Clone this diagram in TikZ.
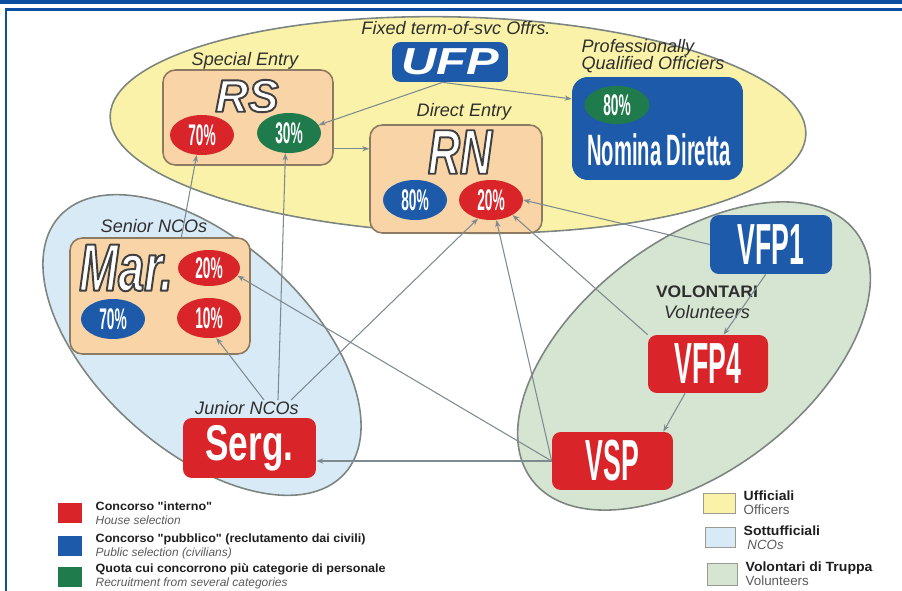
\documentclass[tikz,border=0pt]{standalone}
\usepackage{fontspec}
\setmainfont{Liberation Sans}
\newfontfamily\cnda[FakeStretch=0.46]{Liberation Sans}
\newfontfamily\cndb[FakeStretch=0.7]{Liberation Sans}
\newfontfamily\widefont[FakeStretch=1.3]{Liberation Sans}
\newfontfamily\extfont[FakeStretch=1.05]{Liberation Sans}
\usetikzlibrary{positioning,arrows.meta,shapes.geometric}

\definecolor{frameblue}{HTML}{0B4EA2}
\definecolor{offyellow}{HTML}{FAF2A8}
\definecolor{ncoblue}{HTML}{D9EAF7}
\definecolor{volgreen}{HTML}{D5E5D2}
\definecolor{beige}{HTML}{F8D4A6}
\definecolor{boxedge}{HTML}{8C7B62}
\definecolor{grpedge}{HTML}{7C8580}
\definecolor{cred}{HTML}{D9252A}
\definecolor{cblue}{HTML}{1E5AAA}
\definecolor{cgreen}{HTML}{1F7A4C}
\definecolor{linegray}{HTML}{7D8A90}
\definecolor{tagtext}{HTML}{2E2E2E}
\definecolor{legdark}{HTML}{1E1E1E}
\definecolor{leggray}{HTML}{5A5A5A}
\definecolor{keyedge}{HTML}{9A9A90}

% white letters with a dark rim (fill and stroke)
\newcommand\rimtext[1]{%
  \special{pdf:literal direct 0.25 0.25 0.25 RG 1.1 w 1 j 2 Tr}#1%
  \special{pdf:literal direct 0 Tr}}

\tikzset{
  grp/.style={draw=grpedge, line width=0.9pt},
  box/.style={draw=boxedge, line width=0.9pt, fill=beige, rounded corners=7pt},
  redbox/.style={fill=cred, rounded corners=5pt, text=white},
  bluebox/.style={fill=cblue, rounded corners=5pt, text=white},
  pct/.style={ellipse, inner sep=0pt, minimum width=1.28cm, minimum height=0.8cm,
    text=white, font=\cnda\bfseries\fontsize{17}{17}\selectfont},
  tag/.style={text=tagtext, inner sep=1pt, font=\itshape\fontsize{10.3}{9.7}\selectfont},
  big/.style={font=\cnda\bfseries\fontsize{33}{33}\selectfont},
  rimmed/.style={text=white, inner sep=1pt},
  arr/.style={draw=linegray, line width=0.6pt, -{Stealth[length=4pt,width=3pt]}},
  keysq/.style={minimum height=0.4cm, inner sep=0pt},
  legtxt/.style={align=left, inner sep=0pt, text=legdark, font=\fontsize{6.8}{8}\selectfont},
  legtxtr/.style={legtxt, font=\fontsize{7.6}{8.2}\selectfont}
}

\begin{document}
\begin{tikzpicture}[x=0.02cm, y=-0.02cm]
  \useasboundingbox (0,0) rectangle (902,591);
  % frame
  \fill[frameblue] (0,0) rectangle (902,4);
  \draw[frameblue, line width=1.3pt] (6,591) -- (6,9.5) -- (902,9.5);

  % the three groups
  \draw[grp, fill=offyellow, rotate around={-1.5:(458,125)}] (458,125) ellipse [x radius=348, y radius=108];
  \draw[grp, fill=ncoblue, rotate around={-42:(202,345)}] (202,345) ellipse [x radius=192, y radius=105];
  \draw[grp, fill=volgreen, rotate around={37.5:(694,356)}] (694,356) ellipse [x radius=204, y radius=115];

  % officers
  \node (ufplbl) at (456,28) [tag] {Fixed term-of-svc Offrs.};
  \node (ufp) at (450,62) [bluebox, minimum width=2.32cm, minimum height=0.8cm,
    font=\widefont\bfseries\itshape\fontsize{21.4}{21.4}\selectfont] {UFP};
  \node (rslbl) at (245,61) [tag] {Special Entry};
  \node (rs) at (248,117.5) [box, minimum width=3.4cm, minimum height=1.9cm] {};
  \node (rstxt) at (247,96) [rimmed, font=\bfseries\itshape\fontsize{26}{26}\selectfont] {\rimtext{RS}};
  \node (rs70) at (202,135) [pct, fill=cred] {70\%};
  \node (rs30) at (289,133) [pct, fill=cgreen] {30\%};
  \node (rnlbl) at (464,112) [tag] {Direct Entry};
  \node (rn) at (456,179) [box, minimum width=3.44cm, minimum height=2.16cm] {};
  \node (rntxt) at (460,152) [rimmed, font=\cndb\bfseries\itshape\fontsize{36}{36}\selectfont] {\rimtext{RN}};
  \node (rn80) at (415,200) [pct, fill=cblue] {80\%};
  \node (rn20) at (491,200) [pct, fill=cred] {20\%};
  \node (ndlbl) at (653,56) [tag, align=left] {Professionally\\Qualified Officiers};
  \node (nd) at (657.5,128.5) [bluebox, rounded corners=9pt, minimum width=3.42cm, minimum height=2.06cm] {};
  \node (nd80) at (617,105) [pct, fill=cgreen, minimum width=1.3cm, minimum height=0.76cm] {80\%};
  \node (ndtxt) at (659,150) [text=white, font=\cnda\bfseries\fontsize{25}{25}\selectfont] {Nomina Diretta};

  % NCOs
  \node (marlbl) at (154,226) [tag] {Senior NCOs};
  \node (mar) at (160,296) [box, minimum width=3.6cm, minimum height=2.32cm] {};
  \node (martxt) at (126,268) [rimmed, inner sep=0pt, font=\cndb\bfseries\itshape\fontsize{38}{38}\selectfont] {\rimtext{Mar.}};
  \node (mar20) at (209,268) [pct, fill=cred, minimum width=1.24cm, minimum height=0.72cm] {20\%};
  \node (mar70) at (113,319) [pct, fill=cblue] {70\%};
  \node (mar10) at (209,318) [pct, fill=cred] {10\%};
  \node (serglbl) at (247,408) [tag] {Junior NCOs};
  \node (serg) at (249.5,448) [redbox, minimum width=2.66cm, minimum height=1.2cm,
    font=\cndb\bfseries\fontsize{28.6}{28.6}\selectfont] {Serg.};

  % volunteers
  \node (vfp1) at (771,244.5) [bluebox, big, minimum width=2.44cm, minimum height=1.18cm] {VFP1};
  \node (vollbl) at (707,302) [align=center, inner sep=0pt, text=tagtext]
    {{\extfont\bfseries\fontsize{9.5}{9.5}\selectfont VOLONTARI}\\{\itshape\fontsize{10.3}{9.5}\selectfont Volunteers}};
  \node (vfp4) at (708,364) [redbox, big, minimum width=2.4cm, minimum height=1.16cm] {VFP4};
  \node (vsp) at (612.5,461) [redbox, big, minimum width=2.42cm, minimum height=1.16cm] {VSP};

  % where the lines leave Junior NCOs
  \coordinate (j1) at (264,400);
  \coordinate (j2) at (278,400);
  \coordinate (j3) at (291,400);

  \draw[arr] (ufp.-110) -- (rs30.15);
  \draw[arr] (ufp.-110) -- (nd.161);
  \draw[arr] (rs.-20) -- (rs.-20 -| rn.west);
  \draw[arr] (mar.70) -- (rs70.-105);
  \draw[arr] (j2) -- (rs30.-100);
  \draw[arr] (j1) -- (mar10.-70);
  \draw[arr] (j3) -- (rn20.235);
  \draw[arr] (vsp.west) -- (mar20.-15);
  \draw[arr] (vsp.west) -- (vsp.west -| serg.east);
  \draw[arr] (vsp.west) -- (rn20.-75);
  \draw[arr] (vfp4.north west) -- (rn20.-35);
  \draw[arr] (vfp1.west) -- (rn20.east);
  \draw[arr] (vfp1.-100) -- (vfp4.62);
  \draw[arr] (vfp4.-128) -- (vsp.30);

  % legend
  \node (k1) at (70,513) [keysq, minimum width=0.48cm, fill=cred] {};
  \node (k1t) [legtxt, right=0.26cm of k1] {{\extfont\bfseries Concorso "interno"}\\{\itshape\color{leggray}House selection}};
  \node (k2) at (70,546) [keysq, minimum width=0.48cm, fill=cblue] {};
  \node (k2t) [legtxt, right=0.26cm of k2] {{\extfont\bfseries Concorso "pubblico" (reclutamento dai civili)}\\{\itshape\color{leggray}Public selection (civilians)}};
  \node (k3) at (70,576.5) [keysq, minimum width=0.48cm, fill=cgreen] {};
  \node (k3t) [legtxt, right=0.26cm of k3] {{\extfont\bfseries Quota cui concorrono più categorie di personale}\\{\itshape\color{leggray}Recruitment from several categories}};

  \node (k4) at (719,503) [keysq, minimum width=0.64cm, fill=offyellow, draw=keyedge] {};
  \node (k4t) [legtxtr, right=0.16cm of k4] {{\extfont\bfseries Ufficiali}\\{\color{leggray}Officers}};
  \node (k5) at (720,537.5) [keysq, minimum width=0.6cm, fill=ncoblue, draw=keyedge] {};
  \node (k5t) [legtxtr, right=0.16cm of k5] {{\extfont\bfseries Sottufficiali}\\{\itshape\color{leggray}\ NCOs}};
  \node (k6) at (722,574) [keysq, minimum width=0.6cm, minimum height=0.44cm, fill=volgreen, draw=keyedge] {};
  \node (k6t) [legtxtr, right=0.16cm of k6] {{\extfont\bfseries Volontari di Truppa}\\{\color{leggray}Volunteers}};
\end{tikzpicture}
\end{document}
